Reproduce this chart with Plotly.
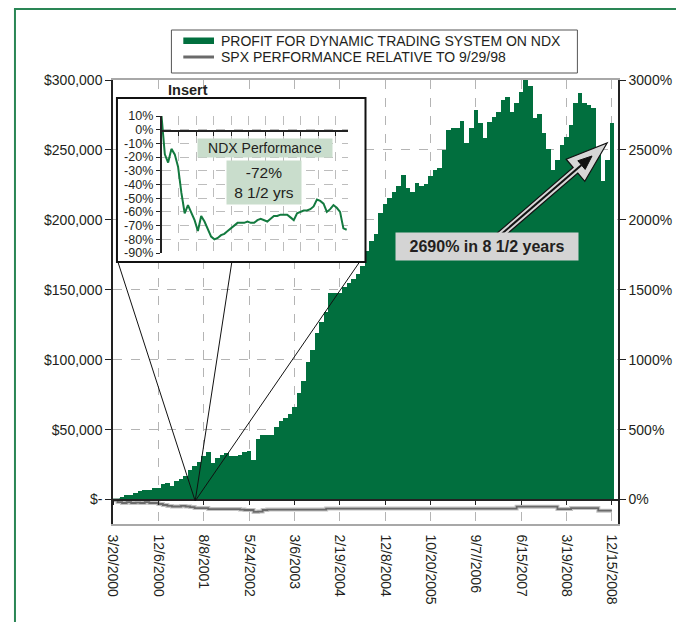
import math
import plotly.graph_objects as go

# category axis tick labels (every 10th point)
tick_dates = ["3/20/2000", "12/6/2000", "8/8/2001", "5/24/2002", "3/6/2003", "2/19/2004",
              "12/8/2004", "10/20/2005", "9/7//2006", "6/15/2007", "3/19/2008", "12/15/2008"]

# profit of the dynamic trading system ($)
profit = [1000, 1000, 2000, 3000, 3500, 4500, 6000, 6500, 7000, 8000,
          8500, 11000, 11500, 10000, 13500, 15000, 17000, 21000, 24000, 27000,
          31000, 34000, 26000, 30000, 31500, 33000, 31000, 31000, 31500, 34000,
          35000, 28000, 43500, 46500, 46500, 46000, 52000, 56500, 58000, 61000,
          66500, 76000, 85000, 98000, 107000, 119000, 127000, 134000, 147500, 147500,
          148000, 152000, 155000, 158000, 161000, 167000, 178000, 185000, 190000, 205000,
          211000, 215500, 220000, 224000, 232000, 222500, 220000, 226000, 224000, 225500,
          231000, 235500, 237000, 250000, 264000, 265500, 266000, 271000, 255000, 266000,
          278500, 269000, 258500, 270000, 273500, 277000, 285500, 288000, 277000, 283500,
          291500, 300000, 296000, 273000, 276000, 262000, 251000, 235500, 243000, 253500,
          259000, 268000, 283500, 290500, 283500, 282000, 280000, 250000, 228000, 243000,
          269000]

# SPX performance relative to 9/29/98 (%), right axis
spx_rel = [-5, -18, -25, -18, -25, -22, -25, -18, -25, -25,
           -32, -39, -46, -50, -50, -46, -50, -54, -61, -61,
           -61, -68, -68, -68, -68, -68, -68, -68, -72, -75,
           -75, -89, -86, -75, -72, -72, -72, -72, -72, -72,
           -72, -72, -72, -72, -72, -72, -72, -65, -65, -65,
           -65, -65, -65, -65, -65, -65, -65, -65, -65, -65,
           -65, -65, -65, -65, -65, -65, -65, -65, -65, -65,
           -65, -65, -65, -65, -65, -65, -65, -65, -65, -65,
           -65, -65, -65, -65, -65, -65, -65, -65, -65, -51,
           -51, -51, -51, -51, -51, -51, -51, -51, -68, -68,
           -68, -61, -61, -61, -61, -61, -61, -80, -80, -80,
           -80]

# NDX performance for the insert (%)
ndx_insert = [10, -18, -24, -14, -18, -27, -46, -61, -55, -61,
              -66, -74, -63, -67, -73, -78, -80, -79, -77, -76,
              -74, -72, -70, -68, -68, -68, -67, -68, -68, -66,
              -65, -66, -67, -65, -63, -63, -62, -62, -62, -64,
              -66, -61, -60, -59, -59, -58, -56, -51, -52, -54,
              -60, -58, -55, -57, -60, -72, -73]

left_ticks = [0, 50000, 100000, 150000, 200000, 250000, 300000]
left_labels = ["$-", "$50,000", "$100,000", "$150,000", "$200,000", "$250,000", "$300,000"]
right_ticks = [0, 500, 1000, 1500, 2000, 2500, 3000]
right_labels = ["0%", "500%", "1000%", "1500%", "2000%", "2500%", "3000%"]
insert_ticks = [10, 0, -10, -20, -30, -40, -50, -60, -70, -80, -90]
insert_labels = ["10%", "0%", "-10%", "-20%", "-30%", "-40%", "-50%", "-60%", "-70%", "-80%", "-90%"]

GREEN = "#016f3e"
TXT = "#231f20"
FONT = "Liberation Sans, Arial, sans-serif"

# page offset of the figure div inside the window
OFF = 8
WIN_W, WIN_H = 684, 622
# plot area in window pixels
L, R, T, B = 113, 623, 80, 524


def px(x, y):
    return (x - L) / (R - L), (B - y) / (B - T)


idx = list(range(len(profit)))
xmax = 111.35

fig = go.Figure()

fig.add_trace(go.Bar(x=idx, y=profit, width=1, marker_color=GREEN,
                     marker_line_width=0, showlegend=False, hoverinfo="skip"))

fig.add_trace(go.Scatter(x=idx, y=spx_rel, xaxis="x3", yaxis="y2", mode="lines",
                         line=dict(color="#c4c4c4", width=4, shape="hv"),
                         showlegend=False, hoverinfo="skip"))
fig.add_trace(go.Scatter(x=idx, y=spx_rel, xaxis="x3", yaxis="y2", mode="lines",
                         line=dict(color="#6a6a6a", width=1.8, shape="hv"),
                         showlegend=False, hoverinfo="skip"))

# white box behind the insert
fig.add_trace(go.Scatter(x=[None], y=[None], xaxis="x2", yaxis="y3",
                         showlegend=False, hoverinfo="skip"))

fig.add_trace(go.Scatter(x=list(range(len(ndx_insert))), y=ndx_insert, xaxis="x4", yaxis="y4",
                         mode="lines", line=dict(color="#137a3f", width=2),
                         showlegend=False, hoverinfo="skip"))

bx0, by0 = px(117, 262)
bx1, by1 = px(368, 98)
ix0, iy0 = px(162, 253)
ix1, iy1 = px(350, 116)

fig.update_layout(
    width=WIN_W - OFF, height=WIN_H - OFF, autosize=False,
    margin=dict(l=L - OFF, r=WIN_W - R, t=T - OFF, b=WIN_H - B),
    paper_bgcolor="white", plot_bgcolor="white",
    font=dict(family=FONT, color=TXT, size=14),
    bargap=0, showlegend=False,
    xaxis=dict(range=[0, xmax], tickvals=list(range(0, 111, 10)), ticktext=tick_dates,
               tickangle=90, ticks="", showline=True, linecolor="#a8a8a8", linewidth=1.5,
               mirror=True, showgrid=True, gridcolor="#b4b4b4", griddash="dash", gridwidth=1,
               zeroline=False, tickfont=dict(size=14, color=TXT), ticklabelstandoff=6),
    yaxis=dict(range=[-17500, 300000], tickvals=left_ticks, ticktext=left_labels,
               showline=True, linecolor="#222", linewidth=1.5, ticks="outside", ticklen=6,
               tickcolor="#222", showgrid=True, gridcolor="#b4b4b4", griddash="dash",
               zeroline=False, tickfont=dict(size=14, color=TXT)),
    yaxis2=dict(overlaying="y", side="right", anchor="x", range=[-175, 3000],
                tickvals=right_ticks, ticktext=right_labels, showline=True, linecolor="#222",
                linewidth=1.5, ticks="outside", ticklen=6, tickcolor="#222", showgrid=False,
                zeroline=False, tickfont=dict(size=14, color=TXT)),
    xaxis3=dict(overlaying="x", anchor="free", position=px(0, 499.5)[1], range=[0, xmax],
                tickvals=list(range(0, 111, 10)), showticklabels=False, ticks="outside",
                ticklen=5, tickcolor="#222", showline=True, linecolor="#222", linewidth=1.5,
                showgrid=False, zeroline=False),
    xaxis2=dict(domain=[bx0, bx1], anchor="y3", visible=False, range=[0, 1]),
    yaxis3=dict(domain=[by0, by1], anchor="x2", visible=False, range=[0, 1]),
    xaxis4=dict(domain=[ix0, ix1], anchor="free", position=px(0, 131)[1], range=[0, 56.3],
                tick0=0, dtick=5.26, ticks="outside", ticklen=4, tickcolor="#222",
                showticklabels=False, showline=True, linecolor="#222", linewidth=1.5,
                showgrid=True, gridcolor="#bdbdbd", griddash="dash", zeroline=False),
    yaxis4=dict(domain=[iy0, iy1], anchor="x4", range=[-90, 10], tickvals=insert_ticks,
                ticktext=insert_labels, showline=True, linecolor="#222", linewidth=1.5,
                ticks="outside", ticklen=4, tickcolor="#222", showgrid=True,
                gridcolor="#bdbdbd", griddash="dash", zeroline=False,
                tickfont=dict(size=12.5, color=TXT)),
)

shapes = []


def rect(x0, y0, x1, y1, **kw):
    a, b = px(x0, y0)
    c, d = px(x1, y1)
    shapes.append(dict(type="rect", xref="paper", yref="paper", x0=a, y0=b, x1=c, y1=d, **kw))


def seg(x0, y0, x1, y1, color, width):
    a, b = px(x0, y0)
    c, d = px(x1, y1)
    shapes.append(dict(type="line", xref="paper", yref="paper", x0=a, y0=b, x1=c, y1=d,
                       line=dict(color=color, width=width)))


# page border
seg(14, 9, 14, 640, "#2a8655", 2)
seg(13, 9, 700, 9, "#2a8655", 2)

# legend
rect(172, 30, 582, 73, line=dict(color="#555", width=1), fillcolor="white")
rect(184, 37.5, 215, 44, line=dict(width=0), fillcolor=GREEN)
seg(184, 57, 215, 57, "#6a6a6a", 3)

# insert frame and connector lines
rect(117, 98, 368, 262, line=dict(color="#111", width=2))
for x0 in (118, 233, 362):
    seg(x0, 262, 196, 501, "#111", 1)

# big arrow
tail = (496, 242)
tip = (612, 143)
dx, dy = tip[0] - tail[0], tip[1] - tail[1]
ln = math.hypot(dx, dy)
ux, uy = dx / ln, dy / ln
nx, ny = -uy, ux


def along(d, off):
    return (tip[0] - ux * d + nx * off, tip[1] - uy * d + ny * off)


def path(points):
    parts = []
    for i, (x, y) in enumerate(points):
        a, b = px(x, y)
        parts.append(("M" if i == 0 else "L") + f"{a:.5f},{b:.5f}")
    return " ".join(parts) + " Z"


hl, hw, sw = 42, 14.5, 3.6
outer = [(tail[0] + nx * sw, tail[1] + ny * sw), along(hl, sw), along(hl, hw), tip,
         along(hl, -hw), along(hl, -sw), (tail[0] - nx * sw, tail[1] - ny * sw)]
shapes.append(dict(type="path", xref="paper", yref="paper", path=path(outer),
                   fillcolor="#d6d6d6", line=dict(color="#111", width=1.2)))
ib = along(34, 0)
seg(tail[0], tail[1], ib[0], ib[1], "#111", 2)
inner = [along(20, 0), along(34, 5.7), along(34, -5.7)]
shapes.append(dict(type="path", xref="paper", yref="paper", path=path(inner),
                   fillcolor="#111", line=dict(color="#111", width=1)))

annotations = []


def label(x, y, text, **kw):
    a, b = px(x, y)
    d = dict(xref="paper", yref="paper", x=a, y=b, text=text, showarrow=False)
    d.update(kw)
    annotations.append(d)


label(220, 40.5, "PROFIT FOR DYNAMIC TRADING SYSTEM ON NDX", xanchor="left", yanchor="middle",
      font=dict(size=14, color=TXT))
label(220, 57, "SPX PERFORMANCE RELATIVE TO 9/29/98", xanchor="left", yanchor="middle",
      font=dict(size=14, color=TXT))
label(167, 90, "<b>Insert</b>", xanchor="left", yanchor="middle", font=dict(size=14.5, color=TXT))
label(266, 148, "NDX Performance", xanchor="center", yanchor="middle", width=134, height=18,
      borderpad=0, bgcolor="#c9ddcc", font=dict(size=14, color=TXT))
label(265, 182.5, "-72%<br>8 1/2 yrs", xanchor="center", yanchor="middle", width=74, height=43,
      borderpad=0, bgcolor="#c9ddcc", font=dict(size=15.5, color=TXT))
label(491, 246.5, "<b>2690% in 8 1/2 years</b>", xanchor="center", yanchor="middle",
      width=182, height=27, borderpad=0, bgcolor="#d4d4d4", font=dict(size=16, color=TXT))

fig.update_layout(shapes=shapes, annotations=annotations)

fig.write_html("out.html")
